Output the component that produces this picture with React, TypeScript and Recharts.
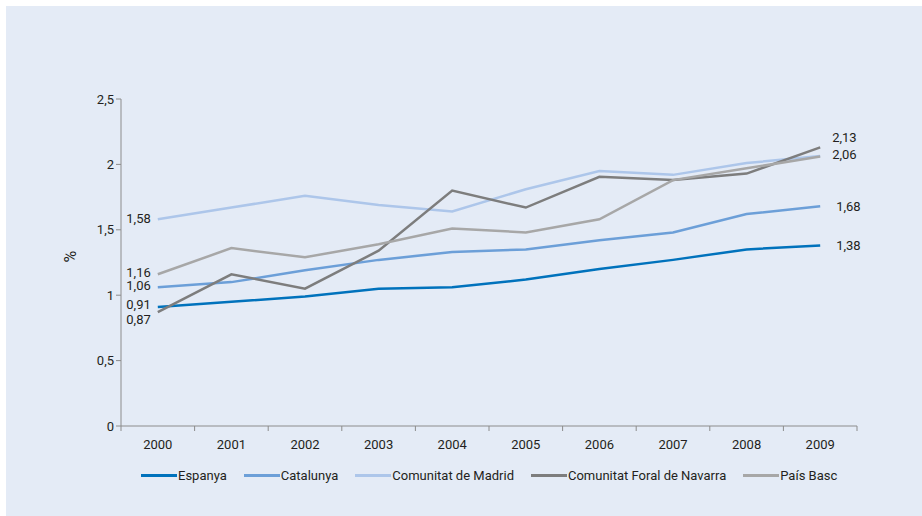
import { LineChart, Line, XAxis, YAxis, LabelList } from "recharts";

const years = ["2000", "2001", "2002", "2003", "2004", "2005", "2006", "2007", "2008", "2009"];
const espanya = [0.91, 0.95, 0.99, 1.05, 1.06, 1.12, 1.2, 1.27, 1.35, 1.38];
const catalunya = [1.06, 1.1, 1.19, 1.27, 1.33, 1.35, 1.42, 1.48, 1.62, 1.68];
const madrid = [1.58, 1.67, 1.76, 1.69, 1.64, 1.81, 1.95, 1.92, 2.01, 2.065];
const navarra = [0.87, 1.16, 1.05, 1.34, 1.8, 1.67, 1.905, 1.88, 1.93, 2.13];
const paisBasc = [1.16, 1.36, 1.29, 1.39, 1.51, 1.48, 1.58, 1.88, 1.97, 2.06];
const yTicks = [0, 0.5, 1, 1.5, 2, 2.5];

const data = years.map((year, i) => ({
  year,
  espanya: espanya[i],
  catalunya: catalunya[i],
  madrid: madrid[i],
  navarra: navarra[i],
  paisBasc: paisBasc[i],
}));

const W = 916;
const H = 510;
const MARGIN = { top: 93, right: 65, bottom: 0, left: 0 };
const Y_AXIS_W = 115;
const X_AXIS_H = 90;
const PLOT_W = W - MARGIN.left - MARGIN.right - Y_AXIS_W;
const BAND = PLOT_W / years.length;

const TEXT = "#231f20";
const AXIS = "#8c8c8c";
const FONT = "Roboto, 'Open Sans', sans-serif";

// label placement for first / last point of each series
const series = [
  { key: "espanya", name: "Espanya", color: "#0072bc", dyL: -3, dxR: 16, dyR: 0 },
  { key: "catalunya", name: "Catalunya", color: "#6c9fd8", dyL: -2, dxR: 16, dyR: 0 },
  { key: "madrid", name: "Comunitat de Madrid", color: "#adc6ea", dyL: -1, dxR: 12, dyR: 0, noRight: true },
  { key: "navarra", name: "Comunitat Foral de Navarra", color: "#7d7d7d", dyL: 7, dxR: 12, dyR: -10 },
  { key: "paisBasc", name: "País Basc", color: "#a7a7a7", dyL: -2, dxR: 12, dyR: -2 },
];

const fmt = (v: number) => v.toFixed(2).replace(".", ",");

function makeLabel(s: (typeof series)[number]) {
  return (props: any) => {
    const { x, y, index, value } = props;
    if (index === 0) {
      return (
        <text x={x - 7} y={y + s.dyL} dy="0.35em" textAnchor="end" fontSize={13} fill={TEXT} fontFamily={FONT}>
          {fmt(value)}
        </text>
      );
    }
    if (index === years.length - 1 && !s.noRight) {
      return (
        <text x={x + s.dxR} y={y + s.dyR} dy="0.35em" textAnchor="start" fontSize={13} fill={TEXT} fontFamily={FONT}>
          {fmt(value)}
        </text>
      );
    }
    return null;
  };
}

function XTick(props: any) {
  const { x, y, payload, index } = props;
  return (
    <g>
      <line x1={x - BAND / 2} x2={x - BAND / 2} y1={y} y2={y + 5} stroke={AXIS} />
      {index === years.length - 1 && (
        <line x1={x + BAND / 2} x2={x + BAND / 2} y1={y} y2={y + 5} stroke={AXIS} />
      )}
      <text x={x} y={y + 18} dy="0.35em" textAnchor="middle" fontSize={13} fill={TEXT} fontFamily={FONT}>
        {payload.value}
      </text>
    </g>
  );
}

function ChartLegend() {
  return (
    <div
      style={{
        position: "absolute",
        left: 135,
        top: 462,
        display: "flex",
        fontFamily: FONT,
        fontSize: 13,
        color: TEXT,
        whiteSpace: "nowrap",
      }}
    >
      {series.map((s) => (
        <div key={s.key} style={{ display: "flex", alignItems: "center", marginRight: 17 }}>
          <span style={{ display: "inline-block", width: 36, height: 3, background: s.color, marginRight: 1 }} />
          <span>{s.name}</span>
        </div>
      ))}
    </div>
  );
}

export default function App() {
  return (
    <div style={{ position: "absolute", left: 6, top: 6, width: W, height: H, background: "#e4ebf6" }}>
      <LineChart width={W} height={H} data={data} margin={MARGIN}>
        <XAxis
          dataKey="year"
          height={X_AXIS_H}
          tick={<XTick />}
          tickLine={false}
          tickSize={0}
          tickMargin={0}
          interval={0}
          padding={{ left: BAND / 2, right: BAND / 2 }}
          axisLine={{ stroke: AXIS }}
        />
        <YAxis
          width={Y_AXIS_W}
          domain={[0, 2.5]}
          ticks={yTicks}
          tickFormatter={(v: number) => String(v).replace(".", ",")}
          tick={{ fill: TEXT, fontSize: 13, fontFamily: FONT }}
          tickLine={{ stroke: AXIS }}
          tickSize={5}
          axisLine={{ stroke: AXIS }}
          label={{ value: "%", angle: -90, position: "insideLeft", offset: 64, fill: TEXT, fontSize: 16, fontFamily: FONT }}
        />
        {series.map((s) => (
          <Line
            key={s.key}
            dataKey={s.key}
            name={s.name}
            stroke={s.color}
            strokeWidth={2.5}
            dot={false}
            activeDot={false}
            isAnimationActive={false}
          >
            <LabelList dataKey={s.key} content={makeLabel(s)} />
          </Line>
        ))}
      </LineChart>
      <ChartLegend />
    </div>
  );
}
